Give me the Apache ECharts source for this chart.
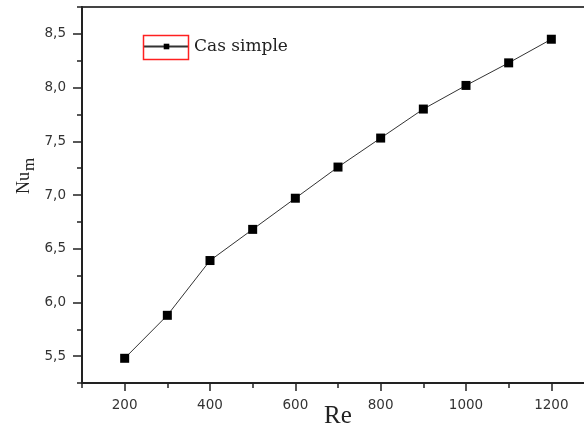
<!DOCTYPE html>
<html>
<head>
<meta charset="utf-8">
<script src="https://cdn.jsdelivr.net/npm/echarts@6/dist/echarts.min.js"></script>
<style>
html, body { margin: 0; padding: 0; background: #fff; }
#main { width: 584px; height: 432px; }
</style>
</head>
<body>
<div id="main"></div>
<script>
// Re / Nu_m data
var reValues = [200, 300, 400, 500, 600, 700, 800, 900, 1000, 1100, 1200];
var numValues = [5.48, 5.88, 6.39, 6.68, 6.97, 7.26, 7.53, 7.80, 8.02, 8.23, 8.45];
var seriesName = 'Cas simple';
var xMajorTicks = [200, 400, 600, 800, 1000, 1200];
var xMinorTicks = [100, 300, 500, 700, 900, 1100, 1300];
var yMajorTicks = [5.5, 6.0, 6.5, 7.0, 7.5, 8.0, 8.5];

var myChart = echarts.init(document.getElementById('main'));

var points = [];
for (var i = 0; i < reValues.length; i++) {
	points.push([reValues[i], numValues[i]]);
}

var axisColor = '#222';
var labelFont = {
	color : '#333',
	fontSize : 13.5,
	fontFamily : 'DejaVu Sans'
};

var option = {
	animation : false,
	backgroundColor : '#fff',
	grid : {
		left : 82,
		top : 7,
		width : 512,
		height : 376,
		outerBoundsMode : 'none',
		containLabel : false,
		show : true,
		borderColor : '#444',
		borderWidth : 2,
		backgroundColor : 'transparent'
	},
	legend : {
		data : [ seriesName ],
		left : 143,
		top : 38,
		padding : 0,
		itemWidth : 45,
		itemHeight : 7,
		itemGap : 4,
		textStyle : {
			color : '#222',
			fontSize : 17,
			fontFamily : 'DejaVu Serif'
		}
	},
	graphic : [ {
		type : 'rect',
		shape : { x : 143.5, y : 35.5, width : 45, height : 24 },
		style : { fill : 'none', stroke : '#ff2020', lineWidth : 1.5 },
		z : 100
	} ],
	xAxis : [ {
		type : 'value',
		min : 100,
		max : 1300,
		interval : 100,
		name : 'Re',
		nameLocation : 'middle',
		nameGap : 21,
		nameMoveOverlap : false,
		nameTextStyle : {
			fontFamily : 'Liberation Serif',
			fontSize : 25,
			color : '#222'
		},
		axisLine : { lineStyle : { color : axisColor, width : 2 } },
		axisTick : {
			customValues : xMajorTicks,
			length : 8,
			lineStyle : { color : axisColor, width : 1.5 }
		},
		axisLabel : Object.assign({
			customValues : xMajorTicks,
			margin : 15,
			formatter : function(v) { return String(v); }
		}, labelFont),
		splitLine : { show : false }
	}, {
		type : 'value',
		position : 'bottom',
		min : 100,
		max : 1300,
		interval : 100,
		axisLine : { show : false },
		axisTick : {
			customValues : xMinorTicks,
			length : 5,
			lineStyle : { color : axisColor, width : 1.5 }
		},
		axisLabel : { show : false },
		splitLine : { show : false }
	} ],
	yAxis : [ {
		type : 'value',
		min : 5.25,
		max : 8.75,
		interval : 0.25,
		name : '{a|Nu}{b|m}',
		nameLocation : 'middle',
		nameGap : 44,
		nameMoveOverlap : false,
		nameRotate : 90,
		nameTextStyle : {
			padding : [ 0, 0, 0, 38 ],
			rich : {
				a : { fontFamily : 'Liberation Serif', fontSize : 18, color : '#222' },
				b : { fontFamily : 'Liberation Serif', fontSize : 17, color : '#222', padding : [ 10, 0, 0, 1 ] }
			}
		},
		axisLine : { lineStyle : { color : axisColor, width : 2 } },
		axisTick : {
			length : 5,
			lineStyle : { color : axisColor, width : 1.5 }
		},
		axisLabel : Object.assign({
			customValues : yMajorTicks,
			margin : 16,
			formatter : function(v) {
				return v.toFixed(1).replace('.', ',');
			}
		}, labelFont),
		splitLine : { show : false }
	}, {
		type : 'value',
		position : 'left',
		min : 5.25,
		max : 8.75,
		interval : 0.25,
		axisLine : { show : false },
		axisTick : {
			customValues : yMajorTicks,
			length : 9,
			lineStyle : { color : axisColor, width : 1.5 }
		},
		axisLabel : { show : false },
		splitLine : { show : false }
	} ],
	series : [ {
		name : seriesName,
		type : 'line',
		data : points,
		symbol : 'rect',
		symbolSize : 9,
		lineStyle : { color : '#333', width : 1 },
		itemStyle : { color : '#000' }
	} ]
};

myChart.setOption(option);
</script>
</body>
</html>
